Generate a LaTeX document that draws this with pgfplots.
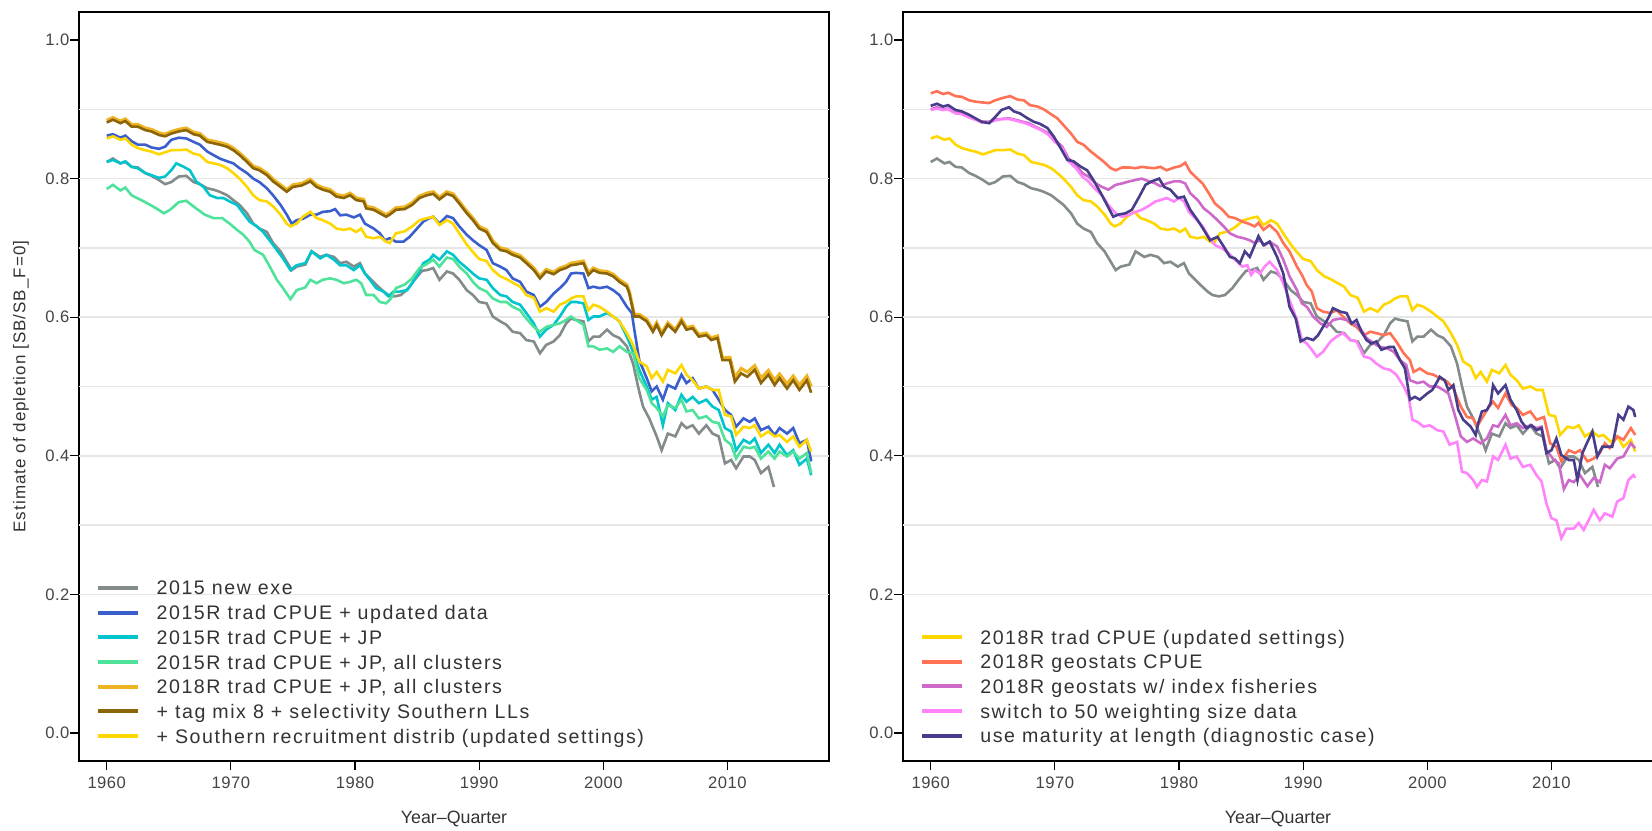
\documentclass[border=0pt]{standalone}
\usepackage{fontspec}
\setmainfont{Liberation Sans}
\newfontfamily\legfont[LetterSpace=8]{Liberation Sans}
\newfontfamily\tickfont[LetterSpace=3]{Liberation Sans}
\newfontfamily\ylabfont[LetterSpace=6]{Liberation Sans}
\usepackage{pgfplots}
\usepackage{pgfplotstable}
\pgfplotsset{compat=1.18}

\definecolor{cGray}{HTML}{838B8B}
\definecolor{cBlue}{HTML}{3A5FCD}
\definecolor{cCyan}{HTML}{00C5CD}
\definecolor{cGreen}{HTML}{4EE29A}
\definecolor{cOrange}{HTML}{EEB422}
\definecolor{cBrown}{HTML}{8B6508}
\definecolor{cGold}{HTML}{FFD700}
\definecolor{cCoral}{HTML}{FF7256}
\definecolor{cOrchid}{HTML}{CD69C9}
\definecolor{cPink}{HTML}{FF83FA}
\definecolor{cSlate}{HTML}{483D8B}
\definecolor{cText}{HTML}{333333}
\definecolor{cTick}{HTML}{444444}
\definecolor{cGrid}{HTML}{E6E6E6}

% ---- 2015 new exe ----
\pgfplotstableread{
yr v
1960.0 0.824
1960.5 0.829
1961.1 0.822
1961.5 0.824
1962.0 0.817
1962.5 0.816
1963.1 0.808
1963.6 0.804
1964.2 0.798
1964.7 0.792
1965.2 0.795
1965.8 0.803
1966.4 0.804
1967.0 0.795
1967.5 0.792
1968.1 0.786
1968.6 0.784
1969.1 0.781
1969.7 0.776
1970.2 0.769
1970.7 0.762
1971.3 0.750
1971.8 0.735
1972.3 0.728
1972.9 0.723
1973.4 0.707
1974.0 0.695
1974.5 0.680
1974.9 0.668
1975.3 0.673
1976.0 0.676
1976.5 0.695
1977.2 0.687
1977.7 0.690
1978.3 0.687
1978.8 0.678
1979.3 0.680
1979.9 0.673
1980.4 0.678
1980.8 0.663
1981.2 0.656
1981.7 0.647
1982.3 0.637
1982.7 0.632
1983.2 0.630
1983.7 0.632
1984.3 0.642
1984.8 0.654
1985.4 0.667
1985.8 0.668
1986.3 0.671
1986.8 0.654
1987.4 0.666
1987.9 0.663
1988.4 0.654
1989.0 0.639
1989.5 0.632
1990.0 0.622
1990.6 0.620
1991.1 0.601
1991.7 0.594
1992.2 0.589
1992.7 0.579
1993.3 0.577
1993.8 0.567
1994.4 0.565
1994.9 0.548
1995.4 0.560
1996.0 0.565
1996.5 0.574
1997.0 0.591
1997.4 0.598
1997.8 0.596
1998.4 0.594
1998.8 0.565
1999.2 0.572
1999.7 0.572
2000.3 0.582
2000.8 0.574
2001.3 0.570
2001.9 0.558
2002.4 0.533
2002.8 0.500
2003.2 0.471
2003.7 0.454
2004.3 0.428
2004.7 0.408
2005.2 0.432
2005.8 0.428
2006.3 0.447
2006.7 0.440
2007.2 0.444
2007.7 0.432
2008.3 0.444
2008.8 0.432
2009.3 0.428
2009.8 0.389
2010.3 0.394
2010.7 0.382
2011.3 0.399
2011.8 0.399
2012.2 0.394
2012.7 0.375
2013.3 0.384
2013.75 0.355
}\tabGray

% ---- 2015R trad CPUE + updated data ----
\pgfplotstableread{
yr v
1960.0 0.862
1960.5 0.864
1961.1 0.859
1961.5 0.862
1962.0 0.854
1962.5 0.849
1963.1 0.849
1963.6 0.845
1964.2 0.843
1964.7 0.846
1965.2 0.856
1965.8 0.859
1966.4 0.858
1967.0 0.853
1967.5 0.849
1968.1 0.839
1968.6 0.834
1969.1 0.829
1969.7 0.825
1970.2 0.822
1970.7 0.815
1971.3 0.808
1971.8 0.800
1972.3 0.795
1972.9 0.786
1973.4 0.776
1974.0 0.762
1974.5 0.748
1974.9 0.735
1975.3 0.740
1975.8 0.742
1976.4 0.748
1976.9 0.748
1977.4 0.752
1978.0 0.753
1978.4 0.756
1978.8 0.747
1979.3 0.748
1979.9 0.744
1980.4 0.748
1980.8 0.735
1981.5 0.728
1982.0 0.721
1982.4 0.711
1982.8 0.714
1983.3 0.709
1983.9 0.709
1984.4 0.716
1985.0 0.728
1985.5 0.738
1986.0 0.743
1986.3 0.745
1986.8 0.735
1987.4 0.746
1987.9 0.743
1988.4 0.731
1989.0 0.719
1989.5 0.711
1990.0 0.704
1990.6 0.697
1991.1 0.678
1991.7 0.673
1992.2 0.668
1992.7 0.656
1993.3 0.651
1993.8 0.637
1994.4 0.632
1994.9 0.615
1995.4 0.622
1996.0 0.634
1996.5 0.642
1997.0 0.651
1997.4 0.663
1997.8 0.664
1998.4 0.663
1998.8 0.642
1999.2 0.644
1999.7 0.642
2000.3 0.644
2000.8 0.639
2001.3 0.632
2001.9 0.615
2002.3 0.606
2002.5 0.582
2002.9 0.538
2003.5 0.512
2003.9 0.493
2004.3 0.500
2004.8 0.481
2005.2 0.502
2005.8 0.497
2006.3 0.517
2006.7 0.505
2007.2 0.512
2007.7 0.497
2008.3 0.500
2008.8 0.495
2009.3 0.481
2009.8 0.466
2010.3 0.459
2010.7 0.442
2011.3 0.454
2011.8 0.449
2012.2 0.454
2012.7 0.437
2013.3 0.442
2013.8 0.430
2014.2 0.440
2014.8 0.432
2015.3 0.440
2015.8 0.418
2016.4 0.423
2016.75 0.392
}\tabBlue

% ---- 2015R trad CPUE + JP ----
\pgfplotstableread{
yr v
1960.0 0.824
1960.5 0.827
1961.1 0.822
1961.5 0.825
1962.0 0.817
1962.5 0.815
1963.1 0.808
1963.6 0.805
1964.2 0.801
1964.7 0.803
1965.2 0.812
1965.6 0.822
1966.2 0.817
1966.7 0.812
1967.2 0.796
1967.8 0.788
1968.3 0.776
1968.9 0.772
1969.4 0.772
1969.9 0.767
1970.5 0.762
1971.0 0.750
1971.5 0.738
1972.1 0.731
1972.6 0.723
1973.2 0.709
1973.7 0.697
1974.2 0.685
1974.8 0.668
1975.3 0.675
1976.0 0.678
1976.5 0.695
1977.2 0.685
1977.7 0.690
1978.3 0.683
1978.8 0.675
1979.3 0.675
1979.9 0.668
1980.4 0.675
1980.8 0.663
1981.2 0.654
1981.7 0.642
1982.3 0.637
1982.7 0.630
1983.1 0.637
1983.6 0.637
1984.2 0.639
1984.6 0.649
1985.1 0.663
1985.5 0.678
1986.0 0.683
1986.3 0.690
1986.8 0.683
1987.4 0.695
1987.9 0.690
1988.4 0.680
1989.0 0.671
1989.5 0.663
1990.0 0.656
1990.6 0.654
1991.1 0.642
1991.7 0.632
1992.2 0.630
1992.7 0.622
1993.3 0.618
1993.8 0.606
1994.4 0.591
1994.9 0.572
1995.4 0.582
1996.0 0.589
1996.5 0.601
1997.0 0.615
1997.4 0.622
1997.8 0.622
1998.4 0.620
1998.8 0.596
1999.2 0.601
1999.7 0.601
2000.3 0.606
2000.8 0.601
2001.3 0.594
2001.9 0.572
2002.4 0.550
2002.9 0.524
2003.5 0.500
2003.9 0.481
2004.3 0.485
2004.8 0.444
2005.2 0.476
2005.8 0.466
2006.3 0.488
2006.7 0.478
2007.2 0.485
2007.7 0.476
2008.3 0.481
2008.8 0.471
2009.3 0.466
2009.8 0.440
2010.3 0.435
2010.7 0.408
2011.3 0.423
2011.8 0.418
2012.2 0.425
2012.7 0.404
2013.3 0.416
2013.8 0.404
2014.2 0.416
2014.8 0.401
2015.3 0.408
2015.8 0.387
2016.4 0.396
2016.75 0.372
}\tabCyan

% ---- 2015R trad CPUE + JP, all clusters ----
\pgfplotstableread{
yr v
1960.0 0.785
1960.5 0.791
1961.1 0.783
1961.5 0.787
1962.0 0.776
1963.0 0.767
1964.0 0.757
1964.6 0.750
1965.1 0.755
1965.8 0.766
1966.4 0.768
1967.2 0.757
1967.9 0.748
1968.6 0.743
1969.3 0.743
1969.9 0.735
1970.5 0.726
1971.0 0.719
1971.5 0.709
1971.9 0.697
1972.6 0.690
1973.2 0.671
1973.7 0.654
1974.2 0.642
1974.8 0.626
1975.3 0.639
1976.0 0.643
1976.4 0.654
1976.9 0.649
1977.4 0.654
1978.0 0.656
1978.5 0.654
1979.1 0.649
1979.6 0.651
1980.1 0.654
1980.5 0.649
1980.9 0.632
1981.5 0.632
1982.0 0.622
1982.5 0.620
1982.9 0.627
1983.3 0.642
1984.0 0.647
1984.6 0.656
1985.2 0.671
1985.8 0.677
1986.3 0.683
1986.8 0.673
1987.4 0.686
1987.9 0.684
1988.4 0.673
1989.0 0.663
1989.5 0.651
1990.0 0.642
1990.6 0.637
1991.1 0.627
1991.7 0.622
1992.2 0.622
1992.7 0.615
1993.3 0.610
1993.8 0.598
1994.4 0.586
1994.9 0.579
1995.4 0.586
1996.0 0.589
1996.5 0.591
1997.0 0.596
1997.4 0.601
1997.8 0.596
1998.4 0.589
1998.8 0.558
1999.2 0.558
1999.7 0.553
2000.3 0.555
2000.8 0.550
2001.3 0.558
2001.9 0.550
2002.4 0.548
2002.9 0.512
2003.5 0.495
2003.9 0.476
2004.3 0.469
2004.8 0.457
2005.2 0.473
2005.8 0.469
2006.3 0.481
2006.7 0.464
2007.2 0.466
2007.7 0.454
2008.3 0.457
2008.8 0.449
2009.3 0.447
2009.8 0.423
2010.3 0.416
2010.7 0.396
2011.3 0.413
2011.8 0.411
2012.2 0.413
2012.7 0.396
2013.3 0.406
2013.8 0.396
2014.2 0.406
2014.8 0.399
2015.3 0.406
2015.8 0.396
2016.4 0.404
2016.75 0.375
}\tabGreen

% ---- 2018R trad CPUE + JP, all clusters ----
\pgfplotstableread{
yr v
1960.0 0.884
1960.5 0.888
1961.1 0.883
1961.5 0.886
1962.0 0.878
1962.5 0.878
1963.1 0.873
1963.6 0.871
1964.2 0.866
1964.7 0.864
1965.2 0.868
1965.8 0.871
1966.4 0.873
1967.0 0.867
1967.5 0.865
1968.1 0.856
1968.6 0.854
1969.1 0.852
1969.7 0.849
1970.2 0.844
1970.7 0.837
1971.3 0.827
1971.8 0.818
1972.3 0.815
1972.9 0.808
1973.4 0.799
1974.0 0.791
1974.5 0.784
1975.0 0.791
1975.7 0.793
1976.4 0.799
1976.9 0.791
1977.4 0.787
1978.0 0.784
1978.5 0.777
1979.1 0.775
1979.6 0.779
1980.1 0.772
1980.7 0.770
1980.9 0.760
1981.5 0.758
1982.0 0.753
1982.5 0.748
1982.8 0.751
1983.3 0.758
1984.0 0.759
1984.6 0.765
1985.2 0.775
1985.8 0.779
1986.3 0.781
1986.8 0.773
1987.4 0.781
1987.9 0.778
1988.4 0.767
1989.0 0.753
1989.5 0.743
1990.0 0.731
1990.6 0.726
1991.1 0.710
1991.7 0.700
1992.2 0.698
1992.7 0.693
1993.3 0.689
1993.8 0.681
1994.4 0.671
1994.9 0.659
1995.4 0.669
1996.0 0.665
1996.5 0.671
1997.0 0.674
1997.4 0.678
1997.8 0.679
1998.4 0.681
1998.8 0.664
1999.2 0.671
1999.7 0.667
2000.3 0.666
2000.8 0.662
2001.3 0.654
2001.9 0.647
2002.1 0.637
2002.5 0.604
2002.9 0.604
2003.5 0.597
2004.0 0.582
2004.3 0.592
2004.7 0.577
2005.2 0.592
2005.8 0.582
2006.3 0.597
2006.7 0.585
2007.2 0.587
2007.7 0.575
2008.3 0.577
2008.7 0.570
2009.2 0.573
2009.6 0.541
2010.2 0.542
2010.6 0.513
2011.1 0.526
2011.6 0.521
2012.2 0.530
2012.7 0.512
2013.3 0.523
2013.8 0.509
2014.2 0.518
2014.8 0.504
2015.3 0.515
2015.8 0.502
2016.4 0.515
2016.75 0.500
}\tabOrange

% ---- + tag mix 8 + selectivity Southern LLs ----
\pgfplotstableread{
yr v
1960.0 0.881
1960.5 0.885
1961.1 0.880
1961.5 0.883
1962.0 0.875
1962.5 0.875
1963.1 0.870
1963.6 0.868
1964.2 0.863
1964.7 0.861
1965.2 0.865
1965.8 0.868
1966.4 0.870
1967.0 0.864
1967.5 0.862
1968.1 0.853
1968.6 0.851
1969.1 0.849
1969.7 0.846
1970.2 0.841
1970.7 0.834
1971.3 0.824
1971.8 0.815
1972.3 0.812
1972.9 0.805
1973.4 0.796
1974.0 0.788
1974.5 0.781
1975.0 0.788
1975.7 0.790
1976.4 0.796
1976.9 0.788
1977.4 0.784
1978.0 0.781
1978.5 0.774
1979.1 0.772
1979.6 0.776
1980.1 0.769
1980.7 0.767
1980.9 0.757
1981.5 0.755
1982.0 0.750
1982.5 0.745
1982.8 0.748
1983.3 0.755
1984.0 0.756
1984.6 0.762
1985.2 0.772
1985.8 0.776
1986.3 0.778
1986.8 0.770
1987.4 0.778
1987.9 0.775
1988.4 0.764
1989.0 0.750
1989.5 0.740
1990.0 0.728
1990.6 0.723
1991.1 0.707
1991.7 0.697
1992.2 0.695
1992.7 0.690
1993.3 0.686
1993.8 0.678
1994.4 0.668
1994.9 0.656
1995.4 0.666
1996.0 0.662
1996.5 0.668
1997.0 0.671
1997.4 0.675
1997.8 0.676
1998.4 0.678
1998.8 0.661
1999.2 0.668
1999.7 0.664
2000.3 0.663
2000.8 0.659
2001.3 0.651
2001.9 0.644
2002.1 0.634
2002.5 0.601
2002.9 0.601
2003.5 0.594
2004.0 0.579
2004.3 0.589
2004.7 0.574
2005.2 0.589
2005.8 0.579
2006.3 0.594
2006.7 0.582
2007.2 0.584
2007.7 0.572
2008.3 0.574
2008.7 0.567
2009.2 0.570
2009.6 0.538
2010.2 0.538
2010.6 0.507
2011.1 0.519
2011.6 0.514
2012.2 0.524
2012.7 0.505
2013.3 0.517
2013.8 0.502
2014.2 0.512
2014.8 0.497
2015.3 0.509
2015.8 0.495
2016.4 0.509
2016.75 0.491
}\tabBrown

% ---- 2018R trad CPUE (updated settings) ----
\pgfplotstableread{
yr v
1960.0 0.858
1960.5 0.861
1961.1 0.856
1961.5 0.858
1962.0 0.849
1962.5 0.844
1963.1 0.841
1963.6 0.839
1964.2 0.835
1964.7 0.838
1965.2 0.841
1965.8 0.841
1966.4 0.842
1967.0 0.836
1967.5 0.834
1968.1 0.824
1968.6 0.822
1969.1 0.820
1969.7 0.815
1970.2 0.808
1970.7 0.800
1971.3 0.788
1971.8 0.776
1972.3 0.769
1972.9 0.767
1973.4 0.760
1974.0 0.748
1974.5 0.735
1974.8 0.731
1975.3 0.735
1975.8 0.745
1976.4 0.752
1976.9 0.743
1977.4 0.740
1978.0 0.735
1978.5 0.728
1979.1 0.726
1979.6 0.728
1980.1 0.723
1980.5 0.728
1980.9 0.716
1981.5 0.714
1982.0 0.716
1982.5 0.709
1982.8 0.707
1983.3 0.721
1984.0 0.724
1984.6 0.731
1985.2 0.740
1985.8 0.743
1986.3 0.745
1986.8 0.733
1987.4 0.740
1987.9 0.735
1988.4 0.721
1989.0 0.705
1989.5 0.694
1990.0 0.684
1990.6 0.681
1991.1 0.668
1991.7 0.659
1992.2 0.655
1992.7 0.650
1993.3 0.644
1993.8 0.632
1994.4 0.628
1994.9 0.608
1995.4 0.613
1996.0 0.608
1996.5 0.618
1997.0 0.622
1997.4 0.627
1997.8 0.630
1998.4 0.630
1998.8 0.610
1999.2 0.618
1999.7 0.615
2000.3 0.608
2000.8 0.601
2001.3 0.594
2001.9 0.577
2002.4 0.560
2002.9 0.536
2003.5 0.529
2003.9 0.512
2004.3 0.521
2004.8 0.507
2005.2 0.524
2005.8 0.519
2006.3 0.531
2006.7 0.517
2007.2 0.509
2007.7 0.497
2008.3 0.500
2008.8 0.495
2009.3 0.495
2009.8 0.459
2010.3 0.457
2010.7 0.430
2011.3 0.442
2011.8 0.440
2012.2 0.444
2012.7 0.428
2013.3 0.435
2013.8 0.428
2014.2 0.430
2014.8 0.420
2015.3 0.428
2015.8 0.413
2016.4 0.423
2016.75 0.406
}\tabGold

% ---- 2018R geostats CPUE ----
\pgfplotstableread{
yr v
1960.0 0.923
1960.5 0.926
1961.0 0.922
1961.4 0.924
1962.0 0.919
1962.5 0.918
1963.1 0.913
1963.6 0.911
1964.1 0.910
1964.7 0.909
1965.2 0.913
1965.7 0.916
1966.4 0.919
1967.0 0.914
1967.5 0.913
1968.0 0.906
1968.6 0.904
1969.1 0.900
1969.6 0.894
1970.2 0.887
1970.7 0.877
1971.3 0.865
1971.8 0.853
1972.3 0.849
1972.9 0.839
1973.4 0.832
1973.9 0.825
1974.5 0.815
1974.9 0.812
1975.4 0.816
1976.0 0.816
1976.5 0.815
1977.0 0.817
1977.4 0.816
1978.0 0.815
1978.5 0.817
1979.0 0.812
1979.6 0.816
1980.1 0.818
1980.5 0.823
1980.9 0.810
1981.3 0.803
1981.9 0.793
1982.4 0.779
1982.9 0.764
1983.5 0.755
1984.0 0.745
1984.5 0.743
1985.1 0.738
1985.6 0.735
1986.1 0.731
1986.4 0.736
1986.8 0.726
1987.3 0.733
1987.9 0.723
1988.4 0.707
1988.9 0.695
1989.5 0.673
1989.9 0.661
1990.3 0.646
1990.7 0.637
1991.1 0.613
1991.6 0.608
1992.2 0.606
1992.7 0.610
1993.2 0.601
1993.8 0.591
1994.3 0.586
1994.9 0.574
1995.4 0.579
1995.9 0.577
1996.5 0.574
1997.0 0.577
1997.5 0.565
1998.1 0.548
1998.6 0.538
1998.9 0.521
1999.4 0.526
2000.0 0.519
2000.5 0.517
2001.0 0.512
2001.6 0.507
2002.1 0.497
2002.7 0.471
2003.2 0.456
2003.7 0.454
2004.0 0.442
2004.4 0.454
2004.9 0.469
2005.3 0.478
2005.7 0.469
2006.3 0.490
2006.8 0.473
2007.2 0.469
2007.7 0.459
2008.3 0.464
2008.8 0.452
2009.4 0.456
2009.9 0.418
2010.4 0.413
2010.8 0.392
2011.4 0.408
2011.9 0.404
2012.3 0.408
2012.9 0.392
2013.4 0.396
2013.9 0.404
2014.3 0.418
2014.7 0.411
2015.3 0.428
2015.8 0.423
2016.4 0.440
2016.75 0.430
}\tabCoral

% ---- 2018R geostats w/ index fisheries ----
\pgfplotstableread{
yr v
1960.0 0.900
1960.5 0.903
1961.0 0.900
1961.4 0.901
1962.0 0.895
1962.5 0.894
1963.1 0.889
1963.6 0.886
1964.1 0.882
1964.7 0.882
1965.2 0.885
1965.7 0.886
1966.3 0.887
1966.8 0.885
1967.4 0.882
1967.9 0.880
1968.4 0.875
1969.0 0.870
1969.5 0.865
1970.0 0.856
1970.6 0.846
1971.1 0.829
1971.7 0.820
1972.2 0.808
1972.7 0.803
1973.3 0.793
1973.8 0.788
1974.3 0.784
1974.9 0.791
1975.4 0.793
1976.0 0.796
1976.5 0.798
1977.0 0.800
1977.6 0.796
1978.1 0.793
1978.5 0.789
1979.0 0.793
1979.6 0.796
1980.1 0.796
1980.5 0.793
1980.9 0.779
1981.5 0.769
1982.0 0.757
1982.5 0.750
1983.1 0.740
1983.6 0.731
1984.1 0.721
1984.7 0.716
1985.2 0.714
1985.7 0.711
1986.1 0.707
1986.5 0.711
1986.9 0.704
1987.3 0.709
1987.9 0.702
1988.4 0.683
1988.9 0.659
1989.5 0.639
1989.9 0.620
1990.3 0.615
1990.8 0.601
1991.4 0.591
1991.9 0.586
1992.4 0.596
1993.0 0.598
1993.5 0.596
1994.1 0.591
1994.6 0.584
1995.1 0.570
1995.7 0.562
1996.2 0.557
1996.8 0.555
1997.3 0.550
1997.8 0.538
1998.3 0.531
1998.6 0.509
1999.2 0.505
1999.7 0.507
2000.2 0.500
2000.8 0.500
2001.3 0.495
2001.7 0.490
2002.1 0.466
2002.7 0.428
2003.2 0.420
2003.7 0.425
2004.3 0.418
2004.8 0.425
2005.3 0.444
2005.7 0.442
2006.3 0.459
2006.7 0.444
2007.2 0.447
2007.7 0.440
2008.3 0.444
2008.8 0.440
2009.2 0.442
2009.6 0.408
2010.2 0.394
2010.6 0.389
2011.0 0.352
2011.4 0.365
2011.8 0.362
2012.3 0.372
2012.9 0.356
2013.4 0.368
2013.9 0.362
2014.3 0.387
2014.7 0.382
2015.3 0.396
2015.8 0.399
2016.4 0.418
2016.75 0.411
}\tabOrchid

% ---- switch to 50 weighting size data ----
\pgfplotstableread{
yr v
1960.0 0.899
1960.5 0.901
1961.0 0.899
1961.4 0.900
1962.0 0.894
1962.5 0.893
1963.1 0.888
1963.6 0.885
1964.1 0.881
1964.7 0.881
1965.2 0.884
1965.7 0.886
1966.3 0.886
1966.8 0.884
1967.4 0.881
1967.9 0.878
1968.4 0.874
1969.0 0.869
1969.5 0.863
1970.0 0.853
1970.6 0.844
1971.1 0.825
1971.7 0.815
1972.2 0.803
1972.7 0.796
1973.3 0.784
1973.8 0.776
1974.3 0.762
1974.9 0.750
1975.4 0.745
1976.0 0.748
1976.5 0.752
1977.0 0.755
1977.6 0.761
1978.1 0.767
1978.5 0.769
1979.0 0.772
1979.6 0.767
1980.0 0.772
1980.4 0.767
1980.8 0.752
1981.3 0.743
1981.9 0.731
1982.4 0.716
1982.9 0.704
1983.5 0.699
1984.0 0.692
1984.5 0.683
1985.1 0.673
1985.5 0.675
1985.8 0.661
1986.1 0.668
1986.5 0.663
1986.9 0.673
1987.3 0.680
1987.9 0.668
1988.4 0.649
1988.9 0.625
1989.5 0.596
1989.9 0.567
1990.3 0.562
1990.7 0.553
1991.1 0.543
1991.6 0.550
1992.2 0.565
1992.7 0.572
1993.2 0.577
1993.8 0.567
1994.3 0.565
1994.9 0.543
1995.4 0.541
1995.9 0.533
1996.5 0.526
1997.0 0.524
1997.5 0.517
1998.1 0.500
1998.5 0.485
1998.8 0.452
1999.2 0.449
1999.7 0.442
2000.2 0.444
2000.8 0.437
2001.3 0.435
2001.8 0.416
2002.4 0.420
2002.8 0.377
2003.2 0.375
2003.7 0.365
2004.0 0.355
2004.4 0.365
2004.8 0.363
2005.3 0.399
2005.7 0.394
2006.3 0.416
2006.7 0.396
2007.2 0.399
2007.7 0.384
2008.3 0.387
2008.8 0.372
2009.2 0.363
2009.6 0.331
2010.0 0.310
2010.4 0.307
2010.8 0.281
2011.2 0.295
2011.8 0.295
2012.2 0.303
2012.6 0.293
2013.0 0.307
2013.4 0.322
2013.9 0.307
2014.3 0.317
2014.9 0.312
2015.3 0.334
2015.8 0.339
2016.2 0.365
2016.6 0.372
2016.75 0.368
}\tabPink

% ---- use maturity at length (diagnostic case) ----
\pgfplotstableread{
yr v
1960.0 0.905
1960.5 0.908
1961.0 0.904
1961.4 0.906
1962.0 0.899
1962.5 0.897
1963.1 0.892
1963.6 0.887
1964.1 0.882
1964.7 0.880
1965.2 0.889
1965.7 0.899
1966.3 0.903
1966.7 0.897
1967.2 0.894
1967.8 0.887
1968.3 0.882
1968.8 0.879
1969.4 0.873
1969.9 0.861
1970.4 0.846
1971.0 0.827
1971.5 0.825
1972.1 0.817
1972.6 0.812
1973.1 0.798
1973.7 0.779
1974.2 0.762
1974.7 0.745
1975.1 0.748
1975.7 0.750
1976.2 0.755
1976.8 0.774
1977.3 0.791
1977.8 0.796
1978.4 0.800
1978.8 0.788
1979.3 0.784
1979.9 0.772
1980.4 0.774
1980.9 0.755
1981.5 0.740
1982.0 0.726
1982.5 0.711
1983.1 0.716
1983.6 0.702
1984.1 0.687
1984.5 0.685
1984.9 0.678
1985.3 0.695
1985.7 0.687
1986.4 0.717
1986.8 0.704
1987.3 0.709
1987.9 0.687
1988.4 0.663
1988.9 0.615
1989.4 0.598
1989.8 0.565
1990.3 0.570
1990.8 0.567
1991.2 0.574
1991.6 0.586
1992.0 0.598
1992.4 0.613
1993.0 0.608
1993.5 0.606
1993.9 0.591
1994.3 0.596
1994.7 0.579
1995.1 0.567
1995.5 0.562
1995.9 0.565
1996.3 0.553
1996.9 0.557
1997.3 0.557
1997.8 0.538
1998.2 0.526
1998.6 0.481
1999.0 0.485
1999.4 0.481
2000.0 0.490
2000.4 0.495
2000.8 0.507
2001.0 0.514
2001.4 0.509
2001.7 0.495
2002.1 0.502
2002.5 0.466
2002.9 0.452
2003.5 0.442
2003.9 0.430
2004.1 0.447
2004.4 0.464
2004.8 0.466
2005.1 0.476
2005.3 0.502
2005.7 0.490
2006.3 0.502
2006.7 0.481
2007.2 0.466
2007.6 0.449
2008.0 0.440
2008.4 0.444
2008.8 0.437
2009.2 0.440
2009.6 0.404
2010.0 0.408
2010.4 0.425
2010.8 0.401
2011.4 0.394
2011.8 0.394
2012.1 0.365
2012.5 0.404
2012.9 0.420
2013.3 0.435
2013.7 0.399
2014.1 0.413
2014.5 0.413
2014.9 0.413
2015.4 0.459
2015.8 0.452
2016.2 0.471
2016.6 0.466
2016.75 0.456
}\tabSlate

\pgfplotsset{
  deplpanel/.style={
    scale only axis, width=375.2pt, height=374.2pt,
    anchor=south west,
    xmin=1957.75, xmax=2018.2, ymin=-0.04, ymax=1.04,
    axis line style={line width=0.85pt, black},
    tick pos=left, tick align=outside,
    major tick length=4.5pt,
    major tick style={line width=0.6pt, black},
    xtick={1960,1970,1980,1990,2000,2010},
    ytick={0,0.2,0.4,0.6,0.8,1.0},
    /pgf/number format/assume math mode=true,
    xticklabel style={/pgf/number format/1000 sep={}, font=\tickfont\fontsize{8.3}{10}\selectfont, text=cTick, inner sep=0pt, yshift=-3.5pt},
    yticklabel style={/pgf/number format/.cd, fixed, fixed zerofill, precision=1, /tikz/.cd, font=\tickfont\fontsize{8.3}{10}\selectfont, text=cTick, inner sep=0pt},
    extra y ticks={0.2,0.3,0.4,0.5,0.6,0.7,0.8,0.9},
    extra y tick labels={},
    extra y tick style={grid=major, major tick length=0pt, major grid style={cGrid, line width=0.8pt}},
    every axis plot/.append style={line width=1.3pt, no markers},
    xlabel={Year--Quarter},
    every axis x label/.style={at={(rel axis cs:0.5,-0.078)}, anchor=center, font=\fontsize{8.9}{10}\selectfont, text=cText},
    legend cell align=left,
    legend image code/.code={\draw[line width=2pt] (0pt,0pt) -- (20pt,0pt); \path (28.5pt,0pt);},
    legend style={draw=none, fill=none, inner sep=0pt, outer sep=0pt, row sep=0pt,
      anchor=north west, font=\legfont\fontsize{9.8}{11}\selectfont, text=cText,
      nodes={inner sep=0pt, text depth=0pt, text height=7pt, minimum height=12.35pt}},
  }
}

\begin{document}
\begin{tikzpicture}
\path[use as bounding box] (0pt,0pt) rectangle (826pt,415pt);

\begin{axis}[deplpanel, at={(39.4pt,34.65pt)},
  ylabel={Estimate of depletion [SB/SB\_F=0]},
  every axis y label/.style={at={(rel axis cs:-0.077,0.5)}, anchor=center, rotate=90, font=\ylabfont\fontsize{8.5}{10}\selectfont, text=cText},
  legend style={at={(rel axis cs:0.0229,0.2473)}}]
\addplot[cGray] table[x=yr, y=v] {\tabGray};
\addlegendentry{2015 new exe}
\addplot[cBlue] table[x=yr, y=v] {\tabBlue};
\addlegendentry{2015R trad CPUE + updated data}
\addplot[cCyan] table[x=yr, y=v] {\tabCyan};
\addlegendentry{2015R trad CPUE + JP}
\addplot[cGreen] table[x=yr, y=v] {\tabGreen};
\addlegendentry{2015R trad CPUE + JP, all clusters}
\addplot[cOrange, line width=1.6pt] table[x=yr, y=v] {\tabOrange};
\addlegendentry{2018R trad CPUE + JP, all clusters}
\addplot[cBrown] table[x=yr, y=v] {\tabBrown};
\addlegendentry{+ tag mix 8 + selectivity Southern LLs}
\addplot[cGold] table[x=yr, y=v] {\tabGold};
\addlegendentry{+ Southern recruitment distrib (updated settings)}
\end{axis}

\begin{axis}[deplpanel, at={(451.4pt,34.65pt)},
  legend style={at={(rel axis cs:0.0229,0.1818)}}]
\addplot[cGray, forget plot] table[x=yr, y=v] {\tabGray};
\addplot[cGold] table[x=yr, y=v] {\tabGold};
\addlegendentry{2018R trad CPUE (updated settings)}
\addplot[cCoral] table[x=yr, y=v] {\tabCoral};
\addlegendentry{2018R geostats CPUE}
\addplot[cOrchid] table[x=yr, y=v] {\tabOrchid};
\addlegendentry{2018R geostats w/ index fisheries}
\addplot[cPink] table[x=yr, y=v] {\tabPink};
\addlegendentry{switch to 50 weighting size data}
\addplot[cSlate] table[x=yr, y=v] {\tabSlate};
\addlegendentry{use maturity at length (diagnostic case)}
\end{axis}
\end{tikzpicture}
\end{document}
